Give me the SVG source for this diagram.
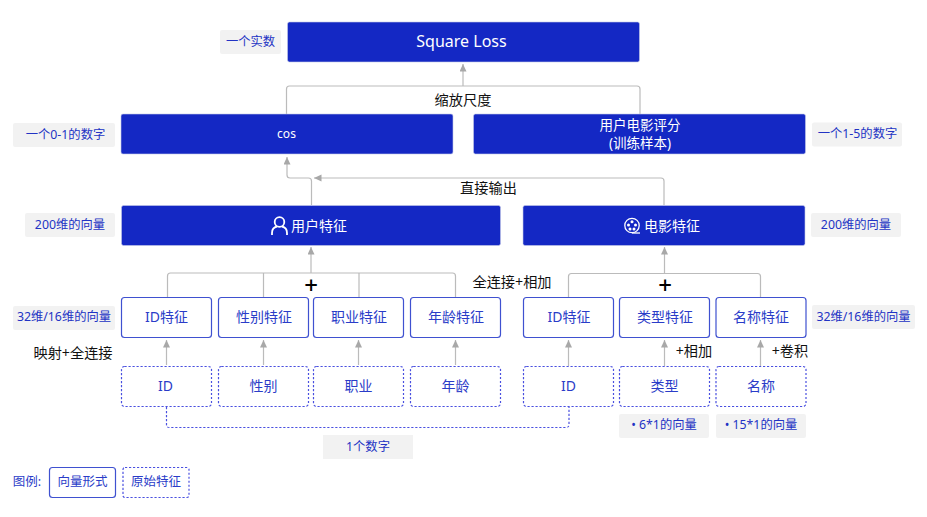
<svg xmlns="http://www.w3.org/2000/svg" width="927" height="517" viewBox="0 0 927 517">
<style>
text{font-family:"Noto Sans","Noto Sans CJK SC",sans-serif;text-anchor:middle;dominant-baseline:central}
.dark rect{fill:#1428c4;stroke:#c5cae8;stroke-width:.6}
.dark text{fill:#fff;font-size:14px}
.vec rect{fill:#fff;stroke:#3f51d0;stroke-width:1.2}
.raw rect{fill:#fff;stroke:#4a50e0;stroke-width:1.2;stroke-dasharray:2.2 1.8}
.vec text,.raw text{fill:#2a3cc8;font-size:14px}
.tag rect{fill:#f2f2f2}
.tag text{fill:#2233c4;font-size:12.3px}
.note{fill:#111;font-size:14.200px}
.plus{fill:#000;font-size:24px;font-weight:500}
.conn{fill:none;stroke:#bbb;stroke-width:1.200}
.dash{fill:none;stroke:#4a50e0;stroke-width:1.200;stroke-dasharray:2.200 1.800}
.icon{fill:none;stroke:#fff;stroke-width:1.800}
</style>
<defs>
<marker id="a" markerUnits="userSpaceOnUse" markerWidth="9" markerHeight="9" refX="7.500" refY="3.500" orient="auto"><path d="M0 0L7.500 3.500L0 7Z" fill="#a8a8a8"/></marker>
</defs>

<g id="connectors">
<path class="conn" d="M286.500 114V89Q286.500 86 289.500 86H637Q640 86 640 89V114"/>
<path class="conn" d="M463 86V64" marker-end="url(#a)"/>
<path class="conn" d="M311.500 205V181Q311.500 178 308.500 178H290Q287 178 287 175V157" marker-end="url(#a)"/>
<path class="conn" d="M664 205V181Q664 178 661 178H314" marker-end="url(#a)"/>
<path class="conn" d="M167.500 297V276Q167.500 273 170.500 273H452.500Q455.500 273 455.500 276V297M263.500 273V297M359 273V297"/>
<path class="conn" d="M311 273V247" marker-end="url(#a)"/>
<path class="conn" d="M568.500 297V276.500Q568.500 273.500 571.500 273.500H757.500Q760.500 273.500 760.500 276.500V297"/>
<path class="conn" d="M664.500 273.500V247" marker-end="url(#a)"/>
<path class="conn" d="M166.500 365V340" marker-end="url(#a)"/>
<path class="conn" d="M263.500 365V340" marker-end="url(#a)"/>
<path class="conn" d="M358.500 365V340" marker-end="url(#a)"/>
<path class="conn" d="M455.500 365V340" marker-end="url(#a)"/>
<path class="conn" d="M568.500 366V340" marker-end="url(#a)"/>
<path class="conn" d="M664.500 366V340" marker-end="url(#a)"/>
<path class="conn" d="M760.500 366V340" marker-end="url(#a)"/>
<path class="dash" d="M166.500 407V424.500Q166.500 427.500 169.500 427.500H566Q569 427.500 569 424.500V407"/>
</g>

<g id="square-loss" class="dark"><rect x="287.500" y="22" width="352" height="40" rx="2"/><text x="461.500" y="41" style="font-size:16px">Square Loss</text></g>
<g id="cos" class="dark"><rect x="121" y="114" width="332" height="40" rx="2"/><text x="286.500" y="133" style="font-size:12px">cos</text></g>
<g id="rating" class="dark"><rect x="473.500" y="114" width="332" height="40" rx="2"/><text x="640" y="124.500" style="font-size:13.500px">用户电影评分</text><text x="640" y="142.500" style="font-size:13.500px">(训练样本)</text></g>
<g id="user-feature" class="dark"><rect x="121.500" y="205.500" width="379" height="40" rx="2"/>
<circle class="icon" cx="279.500" cy="222" r="4.800"/><path class="icon" d="M272 235V233Q272 227.500 277 226.500M287 235V233Q287 227.500 282 226.500"/>
<text x="319" y="225.500">用户特征</text></g>
<g id="movie-feature" class="dark"><rect x="523" y="205.500" width="282" height="40" rx="2"/>
<circle cx="632" cy="225.500" r="7.200" fill="none" stroke="#fff" stroke-width="1.300"/><path d="M632 233H640" stroke="#fff" stroke-width="1.300"/>
<g fill="#fff"><circle cx="632" cy="221.800" r="1.500"/><circle cx="628.500" cy="225" r="1.500"/><circle cx="635.500" cy="225" r="1.500"/><circle cx="630" cy="229" r="1.500"/><circle cx="634" cy="229" r="1.500"/></g>
<text x="672" y="225.500">电影特征</text></g>

<g id="f-id" class="vec"><rect x="121.500" y="297.500" width="90" height="40" rx="3"/><text x="166.500" y="316.500">ID特征</text></g>
<g id="f-gender" class="vec"><rect x="218.500" y="297.500" width="90" height="40" rx="3"/><text x="264" y="316.500">性别特征</text></g>
<g id="f-job" class="vec"><rect x="313.500" y="297.500" width="90" height="40" rx="3"/><text x="359" y="316.500">职业特征</text></g>
<g id="f-age" class="vec"><rect x="410.500" y="297.500" width="90" height="40" rx="3"/><text x="456" y="316.500">年龄特征</text></g>
<g id="f-mid" class="vec"><rect x="523.500" y="297.500" width="90" height="40" rx="3"/><text x="569" y="316.500">ID特征</text></g>
<g id="f-type" class="vec"><rect x="619.500" y="297.500" width="90" height="40" rx="3"/><text x="665" y="316.500">类型特征</text></g>
<g id="f-name" class="vec"><rect x="716" y="297.500" width="90" height="40" rx="3"/><text x="761" y="316.500">名称特征</text></g>

<g id="r-id" class="raw"><rect x="121.500" y="366.500" width="90" height="40" rx="3"/><text x="165.500" y="385">ID</text></g>
<g id="r-gender" class="raw"><rect x="218.500" y="366.500" width="90" height="40" rx="3"/><text x="263.500" y="385.500">性别</text></g>
<g id="r-job" class="raw"><rect x="313.500" y="366.500" width="90" height="40" rx="3"/><text x="358.500" y="385.500">职业</text></g>
<g id="r-age" class="raw"><rect x="410.500" y="366.500" width="90" height="40" rx="3"/><text x="455.500" y="385.500">年龄</text></g>
<g id="r-mid" class="raw"><rect x="523.500" y="366.500" width="90" height="40" rx="3"/><text x="568.500" y="385">ID</text></g>
<g id="r-type" class="raw"><rect x="619.500" y="366.500" width="90" height="40" rx="3"/><text x="664.500" y="385.500">类型</text></g>
<g id="r-name" class="raw"><rect x="716" y="366.500" width="90" height="40" rx="3"/><text x="761" y="385.500">名称</text></g>

<g id="t-real" class="tag"><rect x="220" y="30" width="61" height="24" rx="2"/><text x="250.500" y="41.500">一个实数</text></g>
<g id="t-01" class="tag"><rect x="13" y="123" width="102" height="24" rx="2"/><text x="65.500" y="134">一个0-1的数字</text></g>
<g id="t-15" class="tag"><rect x="812" y="122.500" width="90" height="24" rx="2"/><text x="857.500" y="133.500">一个1-5的数字</text></g>
<g id="t-200l" class="tag"><rect x="25" y="213" width="90" height="24" rx="2"/><text x="70" y="224.500">200维的向量</text></g>
<g id="t-200r" class="tag"><rect x="811" y="213" width="90" height="24" rx="2"/><text x="856" y="224.500">200维的向量</text></g>
<g id="t-32l" class="tag"><rect x="13" y="306" width="102" height="24" rx="2"/><text x="64" y="316.500">32维/16维的向量</text></g>
<g id="t-32r" class="tag"><rect x="812" y="305" width="103" height="24" rx="2"/><text x="863.500" y="316.500">32维/16维的向量</text></g>
<g id="t-one" class="tag"><rect x="323" y="435" width="90" height="24"/><text x="368" y="446.500">1个数字</text></g>
<g id="t-6" class="tag"><rect x="619" y="414" width="90" height="24" rx="2"/><text x="664" y="424.500">• 6*1的向量</text></g>
<g id="t-15v" class="tag"><rect x="716" y="414" width="90" height="24" rx="2"/><text x="761" y="424.500">• 15*1的向量</text></g>

<g id="notes">
<text class="note" x="463" y="99">缩放尺度</text>
<text class="note" x="488.500" y="187.500">直接输出</text>
<text class="note" x="512" y="281.500">全连接+相加</text>
<text class="note" x="73" y="352.500">映射+全连接</text>
<text class="note" x="694" y="350.500">+相加</text>
<text class="note" x="790" y="350.500">+卷积</text>
<text class="plus" x="311" y="284.500">+</text>
<text class="plus" x="665" y="284.500">+</text>
</g>

<g id="legend">
<text x="27" y="481" style="font-size:12.500px;fill:#2a3cc8">图例:</text>
<g id="legend-vector" class="vec"><rect x="49.500" y="467.500" width="66" height="30" rx="3"/><text x="82.500" y="481" style="font-size:12.500px">向量形式</text></g>
<g id="legend-raw" class="raw"><rect x="123" y="467.500" width="66" height="30" rx="2"/><text x="156" y="481" style="font-size:12.500px">原始特征</text></g>
</g>
</svg>
